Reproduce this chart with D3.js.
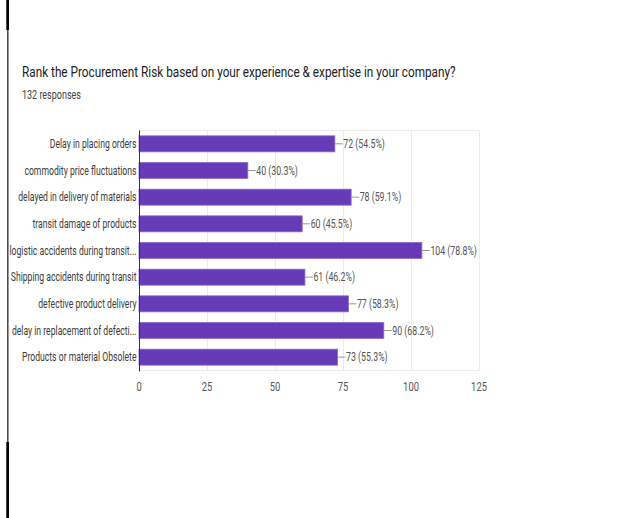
<!DOCTYPE html>
<html>
<head>
<meta charset="utf-8">
<script src="https://cdn.jsdelivr.net/npm/d3@7"></script>
<style>
  html, body { margin: 0; padding: 0; background: #fff; }
  svg { display: block; font-family: Roboto, "Noto Sans", Arial, sans-serif; }
</style>
</head>
<body>
<svg id="chart" width="618" height="518"></svg>
<script>
// Survey answers: how many respondents ranked each procurement risk
const categories = [
  "Delay in placing orders",
  "commodity price fluctuations",
  "delayed in delivery of materials",
  "transit damage of products",
  "logistic accidents during transit...",
  "Shipping accidents during transit",
  "defective product delivery",
  "delay in replacement of defecti...",
  "Products or material Obsolete"
];
const counts = [72, 40, 78, 60, 104, 61, 77, 90, 73];
const totalResponses = 132;
const xTicks = [0, 25, 50, 75, 100, 125];

const titleText = "Rank the Procurement Risk based on your experience & expertise in your company?";
const subtitleText = totalResponses + " responses";

const svg = d3.select("#chart");

// place text at (x, y) with horizontally condensed glyphs
function placeText(sel, x, y, sx = 0.72) {
  return sel.attr("x", 0).attr("y", 0)
    .attr("transform", `translate(${x},${y}) scale(${sx},1)`);
}

// page frame on the left
svg.append("rect").attr("x", 6.3).attr("y", 0).attr("width", 2.7).attr("height", 30).attr("fill", "#000");
svg.append("rect").attr("x", 7.3).attr("y", 30).attr("width", 1.1).attr("height", 412).attr("fill", "#000");
svg.append("rect").attr("x", 6.3).attr("y", 442).attr("width", 2.7).attr("height", 76).attr("fill", "#000");

// heading
svg.append("text").text(titleText)
  .attr("font-size", 15.5).attr("fill", "#202124")
  .call(placeText, 22, 77, 0.76);
svg.append("text").text(subtitleText)
  .attr("font-size", 12).attr("fill", "#444")
  .call(placeText, 22, 99, 0.75);

const plot = { left: 139, right: 479, top: 130.5, bottom: 370.5 };

const x = d3.scaleLinear().domain([0, 125]).range([plot.left, plot.right]);
const y = d3.scaleBand().domain(categories).range([plot.top, plot.bottom]).paddingInner(0.4).paddingOuter(0.2);

// grid
const grid = svg.append("g");
grid.selectAll("line.v").data(xTicks.slice(1)).join("line")
  .attr("x1", d => Math.round(x(d)) + 0.5).attr("x2", d => Math.round(x(d)) + 0.5)
  .attr("y1", plot.top).attr("y2", plot.bottom)
  .attr("stroke", "#ebebeb").attr("stroke-width", 1);
grid.append("line")
  .attr("x1", plot.left).attr("x2", plot.right)
  .attr("y1", plot.top).attr("y2", plot.top)
  .attr("stroke", "#ebebeb");
grid.append("line")
  .attr("x1", plot.left).attr("x2", plot.right)
  .attr("y1", plot.bottom).attr("y2", plot.bottom)
  .attr("stroke", "#ebebeb");

// bars
svg.append("g").selectAll("rect").data(counts).join("rect")
  .attr("x", plot.left)
  .attr("y", (d, i) => y(categories[i]))
  .attr("width", d => x(d) - x(0))
  .attr("height", y.bandwidth())
  .attr("fill", "#673ab7")
  .attr("stroke", "#8b6bc8").attr("stroke-width", 0.8);

// baseline
svg.append("line")
  .attr("x1", plot.left + 0.5).attr("x2", plot.left + 0.5)
  .attr("y1", plot.top).attr("y2", plot.bottom + 1)
  .attr("stroke", "#333").attr("stroke-width", 1);

// value callouts
const callouts = svg.append("g");
counts.forEach((d, i) => {
  const cy = y(categories[i]) + y.bandwidth() / 2;
  const x0 = x(d);
  callouts.append("line")
    .attr("x1", x0).attr("x2", x0 + 8)
    .attr("y1", cy).attr("y2", cy)
    .attr("stroke", "#999").attr("stroke-width", 1);
  const pct = (d / totalResponses * 100).toFixed(1);
  callouts.append("text").text(`${d} (${pct}%)`)
    .attr("font-size", 12).attr("fill", "#555")
    .call(placeText, x0 + 8.5, cy + 4.2, 0.73);
});

// category labels
svg.append("g").selectAll("text").data(categories).join("text")
  .text(d => d)
  .attr("font-size", 12).attr("fill", "#3c3c3c")
  .attr("text-anchor", "end")
  .each(function (d) {
    d3.select(this).call(placeText, plot.left - 2.5, y(d) + y.bandwidth() / 2 + 4.2);
  });

// x axis tick labels
svg.append("g").selectAll("text").data(xTicks).join("text")
  .text(d => d)
  .attr("font-size", 13).attr("fill", "#555")
  .attr("text-anchor", "middle")
  .each(function (d) {
    d3.select(this).call(placeText, x(d), 391);
  });
</script>
</body>
</html>
